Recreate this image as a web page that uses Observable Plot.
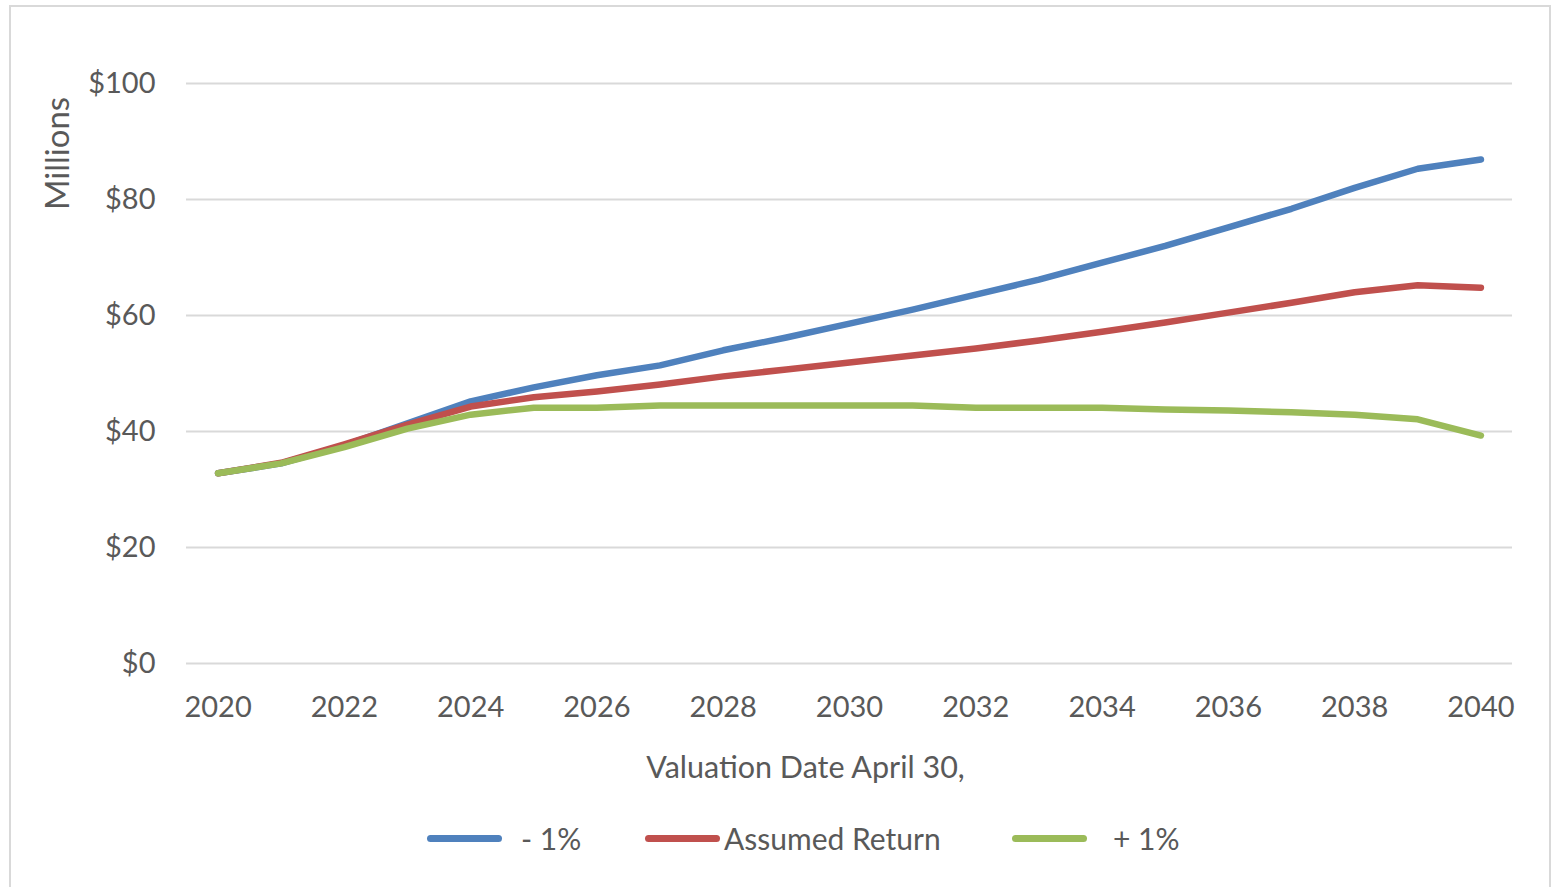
<!DOCTYPE html>
<html>
<head>
<meta charset="utf-8">
<script src="https://cdn.jsdelivr.net/npm/d3@7"></script>
<script src="https://cdn.jsdelivr.net/npm/@observablehq/plot@0.6"></script>
<style>
  html, body { margin: 0; padding: 0; background: #fff; }
  body { width: 1554px; height: 887px; position: relative; overflow: hidden; font-family: Lato, "Open Sans", sans-serif; }
  #frame { position: absolute; left: 9px; top: 5px; width: 1542px; height: 900px; border: 2px solid #d9d9d9; box-sizing: border-box; }
  #chart { position: absolute; left: 0; top: 0; }
  #legend { position: absolute; left: 427px; top: 822px; height: 32px; display: flex; align-items: center; color: #595959; font-size: 30px; white-space: nowrap; }
  .sw { width: 75px; height: 7px; border-radius: 4px; }
  .lbl { line-height: 32px; }
</style>
</head>
<body>
<div id="frame"></div>
<div id="chart"></div>
<div id="legend"></div>
<script>
const years = d3.range(2020, 2041);
const minus1 = [32.8, 34.5, 37.6, 41.4, 45.2, 47.6, 49.7, 51.4, 54.0, 56.2, 58.6, 61.0, 63.6, 66.2, 69.1, 72.0, 75.2, 78.4, 82.0, 85.3, 86.9];
const assumed = [32.8, 34.6, 37.8, 41.2, 44.3, 45.9, 46.9, 48.1, 49.5, 50.7, 51.9, 53.1, 54.3, 55.7, 57.2, 58.8, 60.5, 62.2, 64.0, 65.2, 64.8];
const plus1 = [32.8, 34.5, 37.3, 40.5, 42.9, 44.1, 44.1, 44.5, 44.5, 44.5, 44.5, 44.5, 44.1, 44.1, 44.1, 43.8, 43.6, 43.3, 42.9, 42.1, 39.3];
const seriesNames = ["- 1%", "Assumed Return", "+ 1%"];
const seriesColors = ["#4f81bd", "#c0504d", "#9bbb59"];
const xTicks = d3.range(2020, 2041, 2);
const yTicks = [0, 20, 40, 60, 80, 100];
const xTitle = "Valuation Date April 30,";
const yTitle = "Millions";

const seriesValues = [minus1, assumed, plus1];
const rows = [];
seriesNames.forEach((name, i) => {
  years.forEach((yr, j) => rows.push({series: name, year: yr, value: seriesValues[i][j]}));
});

const chart = Plot.plot({
  width: 1554,
  height: 790,
  marginLeft: 186,
  marginRight: 42,
  marginTop: 83,
  marginBottom: 127,
  style: { fontFamily: "Lato, 'Open Sans', sans-serif", fontSize: "29px", color: "#595959", background: "transparent" },
  x: { domain: [2019.5, 2040.5] },
  y: { domain: [0, 100] },
  color: { domain: seriesNames, range: seriesColors },
  marks: [
    Plot.gridY(yTicks, { stroke: "#d9d9d9", strokeOpacity: 1, strokeWidth: 2 }),
    Plot.axisY({ ticks: yTicks, tickSize: 0, tickPadding: 31, tickFormat: d => "$" + d, label: null, fill: "#595959" }),
    Plot.axisX({ ticks: xTicks, tickSize: 0, tickPadding: 33, tickFormat: d => String(d), label: null, fill: "#595959" }),
    Plot.lineY(rows, { x: "year", y: "value", z: "series", stroke: "series", strokeWidth: 6.5, strokeLinecap: "round", strokeLinejoin: "round" }),
    Plot.text([xTitle], { frameAnchor: "bottom", dx: -44, dy: 105, fill: "#595959", fontSize: 30.5, lineAnchor: "middle" }),
    Plot.text([yTitle], { frameAnchor: "top-left", dx: -128, dy: 70, rotate: -90, textAnchor: "middle", lineAnchor: "middle", fill: "#595959", fontSize: 33 })
  ]
});
document.getElementById("chart").appendChild(chart);

const legend = document.getElementById("legend");
const gaps = [[0, 19], [66, 4], [69, 26]];
const labelWidths = [58, 219, 63];
seriesNames.forEach((name, i) => {
  const sw = document.createElement("div");
  sw.className = "sw";
  sw.style.background = seriesColors[i];
  sw.style.marginLeft = gaps[i][0] + "px";
  const t = document.createElement("div");
  t.className = "lbl";
  t.textContent = name;
  t.style.marginLeft = gaps[i][1] + "px";
  t.style.width = labelWidths[i] + "px";
  legend.appendChild(sw);
  legend.appendChild(t);
});
</script>
</body>
</html>
